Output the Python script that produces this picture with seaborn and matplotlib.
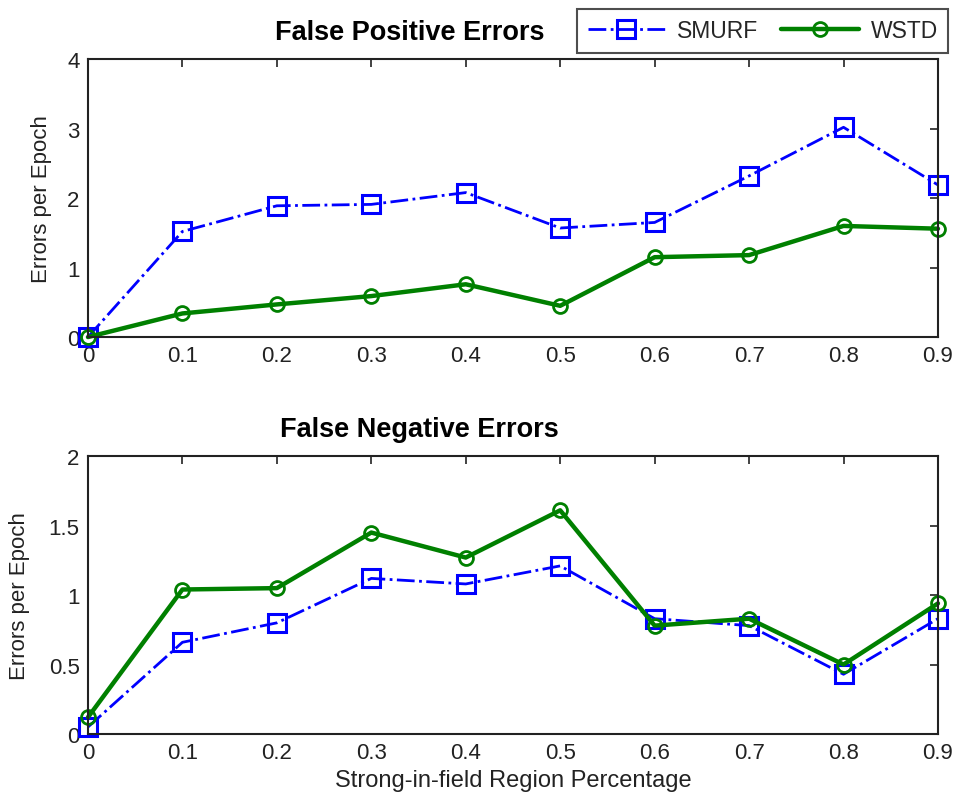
import matplotlib
matplotlib.use('Agg')

import matplotlib.pyplot as plt
import seaborn as sns
import pandas as pd
import numpy as np

# region percentage on the x axis
pct = [0, 0.1, 0.2, 0.3, 0.4, 0.5, 0.6, 0.7, 0.8, 0.9]

# false positive errors per epoch
fp_smurf = [0.0, 1.52, 1.89, 1.91, 2.08, 1.57, 1.65, 2.32, 3.02, 2.19]
fp_wstd = [0.0, 0.34, 0.47, 0.59, 0.76, 0.45, 1.15, 1.18, 1.60, 1.56]

# false negative errors per epoch
fn_smurf = [0.05, 0.66, 0.80, 1.12, 1.08, 1.21, 0.83, 0.78, 0.43, 0.83]
fn_wstd = [0.12, 1.04, 1.05, 1.45, 1.27, 1.61, 0.78, 0.83, 0.50, 0.94]

fp_ticks = [0, 1, 2, 3, 4]
fn_ticks = [0, 0.5, 1, 1.5, 2]

sns.set_style('white')
plt.rcParams['font.family'] = ['Liberation Sans', 'DejaVu Sans']

BLUE = '#0000ff'
GREEN = '#008000'
INK = '#222222'


def draw(ax, smurf, wstd, yticks, title, title_x):
    sns.lineplot(x=pct, y=smurf, ax=ax, color=BLUE, linestyle='-.', linewidth=2,
                 marker='s', markersize=13, markerfacecolor='none',
                 markeredgecolor=BLUE, markeredgewidth=2.2, clip_on=False,
                 label='SMURF')
    sns.lineplot(x=pct, y=wstd, ax=ax, color=GREEN, linestyle='-', linewidth=3.2,
                 marker='o', markersize=10, markerfacecolor='none',
                 markeredgecolor=GREEN, markeredgewidth=2, clip_on=False,
                 label='WSTD')
    ax.set_xlim(0, 0.9)
    ax.set_ylim(yticks[0], yticks[-1])
    ax.set_xticks(pct)
    ax.set_xticklabels(['%g' % v for v in pct])
    ax.set_yticks(yticks)
    ax.set_yticklabels(['%g' % v for v in yticks])
    ax.tick_params(direction='in', length=6, width=1.2, top=True, right=True,
                   labelsize=16, pad=6, colors=INK, labelcolor=INK)
    for s in ax.spines.values():
        s.set_linewidth(1.5)
        s.set_color(INK)
    ax.set_ylabel('Errors per Epoch', fontsize=16, color=INK)
    ax.text(title_x, 1.05, title, transform=ax.transAxes, ha='center', va='bottom',
            fontsize=19.5, fontweight='bold', color='black')
    ax.get_legend().remove()


fig = plt.figure(figsize=(9.54, 8.03), dpi=100)
ax1 = fig.add_axes([0.0922, 0.579, 0.891, 0.346])
ax2 = fig.add_axes([0.0922, 0.0847, 0.891, 0.346])

draw(ax1, fp_smurf, fp_wstd, fp_ticks, 'False Positive Errors', 0.379)
draw(ax2, fn_smurf, fn_wstd, fn_ticks, 'False Negative Errors', 0.39)
ax1.yaxis.set_label_coords(-0.042, 0.5)
ax2.yaxis.set_label_coords(-0.068, 0.5)
ax2.set_xlabel('Strong-in-field Region Percentage', fontsize=17, color=INK)

handles, labels = ax1.get_legend_handles_labels()
leg = fig.legend(handles, labels, ncol=2, loc='upper right',
                 bbox_to_anchor=(0.9937, 0.9875), borderaxespad=0,
                 fontsize=16.5, frameon=True, fancybox=False, edgecolor=INK,
                 handlelength=3.4, columnspacing=1.0, borderpad=0.45,
                 handletextpad=0.5)
leg.get_frame().set_linewidth(1.5)

fig.savefig('out.png', dpi=100)
